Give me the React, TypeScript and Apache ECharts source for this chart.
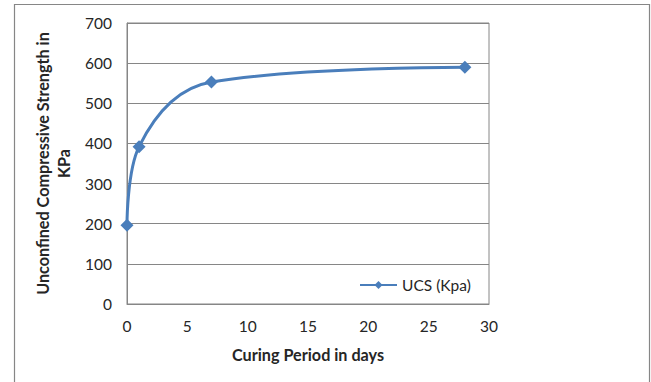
import React, { useEffect, useRef } from "react";
import * as echarts from "echarts";

const days = [0, 1, 7, 28];
const ucs = [196, 392, 553, 590];
const xTicks = [0, 5, 10, 15, 20, 25, 30];
const yTicks = [0, 100, 200, 300, 400, 500, 600, 700];
const seriesName = "UCS (Kpa)";

const FONT = "Lato, 'Open Sans', sans-serif";
const TXT = "#262626";
const GRAY = "#868686";

export default function App() {
  const ref = useRef<HTMLDivElement>(null);
  useEffect(() => {
    if (!ref.current) return;
    const chart = echarts.init(ref.current, undefined, { renderer: "svg" });
    chart.setOption({
      animation: false,
      backgroundColor: "#ffffff",
      textStyle: { fontFamily: FONT },
      grid: { left: 127, right: 162, top: 23, bottom: 78, show: true, borderColor: GRAY, borderWidth: 1 },
      graphic: [
        {
          type: "rect",
          shape: { x: 14.5, y: 4.5, width: 635, height: 390 },
          style: { fill: "none", stroke: GRAY, lineWidth: 1.2 },
          z: 100,
          silent: true,
        },
      ],
      legend: {
        left: 359,
        top: 277,
        padding: 0,
        itemWidth: 37,
        itemHeight: 10,
        itemGap: 2,
        textStyle: { fontFamily: FONT, fontSize: 15.5, color: TXT },
        data: [{ name: seriesName }],
      },
      xAxis: {
        type: "value",
        min: xTicks[0],
        max: xTicks[xTicks.length - 1],
        interval: 5,
        name: "Curing Period in days",
        nameLocation: "middle",
        nameGap: 42,
        nameTextStyle: { fontFamily: FONT, fontSize: 16.2, fontWeight: "bold", color: TXT },
        axisLine: { show: true, lineStyle: { color: GRAY } },
        axisTick: { show: false },
        splitLine: { show: false },
        axisLabel: { fontFamily: FONT, fontSize: 15.5, color: TXT, margin: 14 },
      },
      yAxis: {
        type: "value",
        min: yTicks[0],
        max: yTicks[yTicks.length - 1],
        interval: 100,
        name: "Unconfined Compressive Strength in\nKPa",
        nameLocation: "middle",
        nameGap: 46,
        nameTextStyle: { fontFamily: FONT, fontSize: 16.2, fontWeight: "bold", color: TXT, lineHeight: 21 },
        axisLine: { show: true, lineStyle: { color: GRAY } },
        axisTick: { show: false },
        splitLine: { show: true, lineStyle: { color: GRAY } },
        axisLabel: { fontFamily: FONT, fontSize: 15.5, color: TXT, margin: 15 },
      },
      series: [
        {
          name: seriesName,
          type: "line",
          data: days.map((d, i) => [d, ucs[i]]),
          smooth: 0.38,
          symbol: "diamond",
          symbolSize: 13,
          lineStyle: { color: "#4a7ebb", width: 3 },
          itemStyle: { color: "#4a7ebb" },
        },
      ],
    });
    return () => chart.dispose();
  }, []);
  return (
    <div
      ref={ref}
      style={{ position: "fixed", left: 0, top: 0, width: 651, height: 382, overflow: "hidden" }}
    />
  );
}
